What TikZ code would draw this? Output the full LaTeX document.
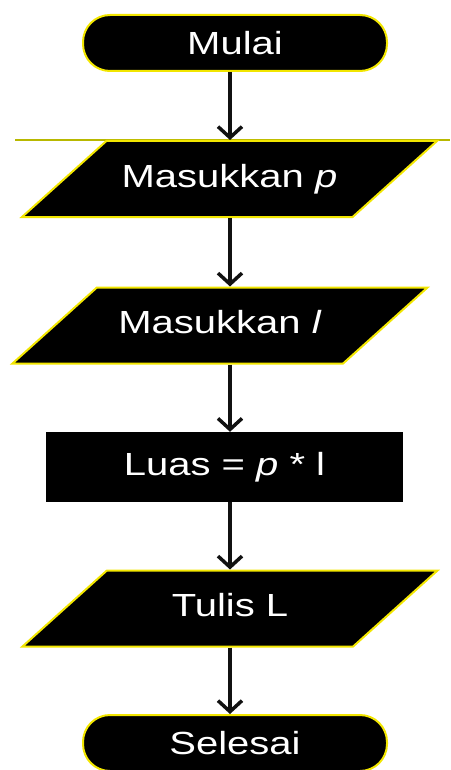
\documentclass[tikz,border=0pt]{standalone}
\usepackage{fontspec}
\usepackage{tikz}
\newfontfamily\chartfont[FakeStretch=1.25]{Liberation Sans}
\usetikzlibrary{shapes.geometric,arrows.meta}
\definecolor{rimyellow}{HTML}{F2E600}
\definecolor{ruleolive}{HTML}{B8B800}
\definecolor{arrowgray}{HTML}{111111}

\begin{document}
\begin{tikzpicture}[
  x=1pt, y=-1pt,
  box/.style={
    fill=black,
    text=white,
    inner xsep=2pt,
    font=\chartfont\fontsize{32}{38}\selectfont
  },
  terminal/.style={
    box,
    rectangle,
    rounded corners=27pt,
    draw=rimyellow,
    line width=2pt,
    minimum width=304pt,
    minimum height=56pt
  },
  io/.style={
    box,
    trapezium,
    trapezium left angle=42,
    trapezium right angle=138,
    trapezium stretches body,
    draw=rimyellow,
    line width=2pt,
    text height=23pt,
    text depth=7pt,
    inner ysep=23pt,
    minimum width=415pt
  },
  process/.style={
    box,
    rectangle,
    minimum width=357pt,
    minimum height=70pt
  },
  flow/.style={
    -{Straight Barb[length=11pt,width=24pt]},
    line width=3.5pt,
    arrowgray
  }
]
\useasboundingbox (0,0) rectangle (450,770);

% --- spine of the chart ---
\coordinate (spine) at (230,0);

% --- rule under the first arrow ---
\draw[ruleolive, line width=2pt] (15,140) -- (450,140);

% --- steps ---
\node[terminal] (mulai)   at (235,43)    {Mulai};
\node[io]       (inp)     at (229.5,179) {Masukkan \textit{p}};
\node[io]       (inl)     at (220,325.5) {Masukkan \textit{l}};
\node[process]  (luas)    at (224.5,467) {Luas = \textit{p} * l};
\node[io]       (tulis)   at (230,608.5) {Tulis L};
\node[terminal] (selesai) at (235,743)   {Selesai};

% --- arrows ---
\foreach \a/\b in {mulai/inp, inp/inl, inl/luas, luas/tulis, tulis/selesai} {
  \draw[flow] (\a.south -| spine) -- (\b.north -| spine);
}

\end{tikzpicture}
\end{document}
